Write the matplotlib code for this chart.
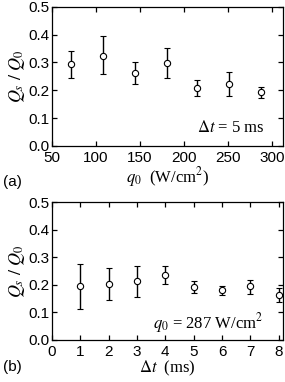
import matplotlib.pyplot as plt

# panel (a): varying heat flux, dt = 5 ms
q0 = [72, 108, 144, 180, 215, 251, 287]
ratio_a = [0.295, 0.325, 0.261, 0.298, 0.210, 0.224, 0.193]
err_lo_a = [0.246, 0.257, 0.222, 0.243, 0.180, 0.180, 0.171]
err_hi_a = [0.343, 0.394, 0.300, 0.351, 0.237, 0.265, 0.213]

# panel (b): varying dt, q0 = 287 W/cm2
dt = [1, 2, 3, 4, 5, 6, 7, 8]
ratio_b = [0.195, 0.204, 0.213, 0.236, 0.193, 0.181, 0.194, 0.163]
err_lo_b = [0.114, 0.146, 0.157, 0.202, 0.172, 0.163, 0.167, 0.136]
err_hi_b = [0.277, 0.261, 0.267, 0.269, 0.214, 0.195, 0.219, 0.190]

plt.rcParams.update({
    "font.family": ["Liberation Sans", "DejaVu Sans"],
    "font.size": 11,
    "mathtext.fontset": "stix",
    "axes.linewidth": 0.9,
})
serif = "Liberation Serif"

fig = plt.figure(figsize=(2.85, 3.82), dpi=100)
ax1 = fig.add_axes([0.182, 0.618, 0.811, 0.364])
ax2 = fig.add_axes([0.182, 0.110, 0.811, 0.361])


def draw(ax, x, y, lo, hi):
    yerr = [[v - l for v, l in zip(y, lo)], [h - v for v, h in zip(y, hi)]]
    ax.errorbar(x, y, yerr=yerr, fmt="o", mfc="white", mec="black",
                ecolor="black", ms=4.5, mew=0.8, elinewidth=1.0,
                capsize=2, capthick=1.0)
    ax.set_ylim(0, 0.5)
    ax.set_yticks([0.0, 0.1, 0.2, 0.3, 0.4, 0.5])
    ax.set_yticklabels(["0.0", "0.1", "0.2", "0.3", "0.4", "0.5"])
    ax.tick_params(direction="in", top=True, right=True, length=3.5,
                   width=0.9, labelsize=11)
    ax.tick_params(axis="y", pad=2)
    ax.tick_params(axis="x", pad=3.5)
    ax.set_ylabel(r"$Q_s\ /\ Q_0$", fontsize=13, labelpad=1)


draw(ax1, q0, ratio_a, err_lo_a, err_hi_a)
ax1.set_xlim(50, 312)
ax1.set_xticks([50, 100, 150, 200, 250, 300])
ax1.set_xlabel(r"$q_0$  (W/cm$^2$)", fontsize=12, family=serif, labelpad=0)
ax1.text(0.922, 0.13, r"$\Delta t$ = 5 ms", transform=ax1.transAxes,
         ha="right", va="center", fontsize=12, family=serif)
fig.text(0.01, 0.523, "(a)", fontsize=11, va="center")

draw(ax2, dt, ratio_b, err_lo_b, err_hi_b)
ax2.set_xlim(0, 8.15)
ax2.set_xticks(range(0, 9))
ax2.set_xlabel(r"$\Delta t$  (ms)", fontsize=12, family=serif, labelpad=0)
ax2.text(0.913, 0.125, r"$q_0$ = 287 W/cm$^2$", transform=ax2.transAxes,
         ha="right", va="center", fontsize=12, family=serif)
fig.text(0.01, 0.04, "(b)", fontsize=11, va="center")

fig.savefig("out.png", dpi=100)
